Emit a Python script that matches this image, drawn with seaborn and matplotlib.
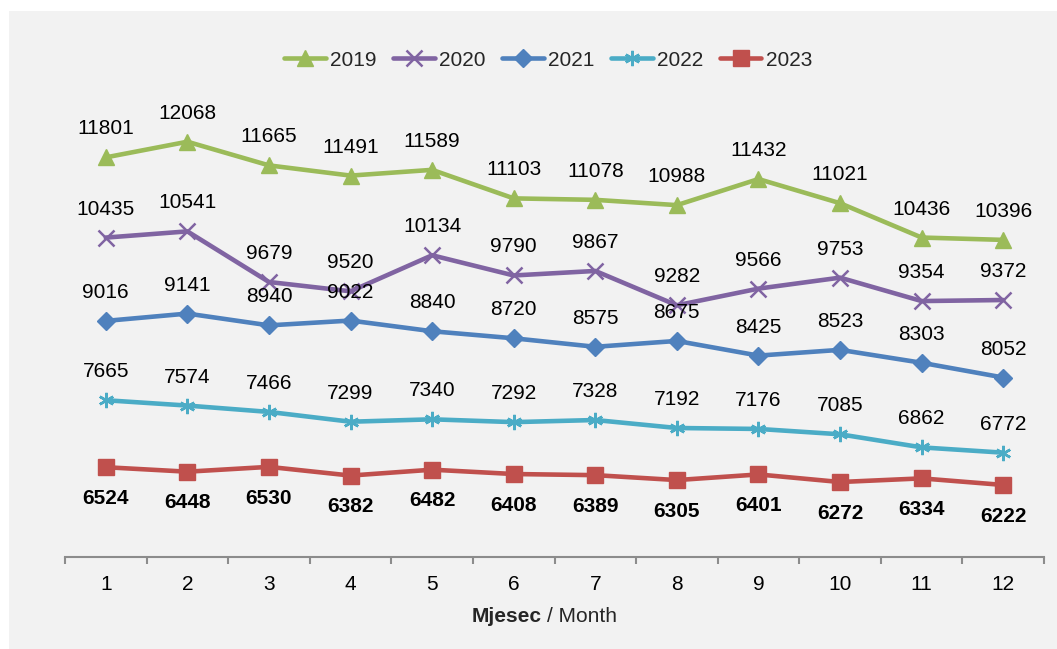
import matplotlib
matplotlib.use("Agg")
import matplotlib.pyplot as plt
from matplotlib.patches import Rectangle
import seaborn as sns
import pandas as pd

# podaci
months = list(range(1, 13))
years = ["2019", "2020", "2021", "2022", "2023"]
v2019 = [11801, 12068, 11665, 11491, 11589, 11103, 11078, 10988, 11432, 11021, 10436, 10396]
v2020 = [10435, 10541, 9679, 9520, 10134, 9790, 9867, 9282, 9566, 9753, 9354, 9372]
v2021 = [9016, 9141, 8940, 9022, 8840, 8720, 8575, 8675, 8425, 8523, 8303, 8052]
v2022 = [7665, 7574, 7466, 7299, 7340, 7292, 7328, 7192, 7176, 7085, 6862, 6772]
v2023 = [6524, 6448, 6530, 6382, 6482, 6408, 6389, 6305, 6401, 6272, 6334, 6222]
series = [v2019, v2020, v2021, v2022, v2023]

colors = ["#9BBB59", "#8064A2", "#4F81BD", "#4BACC6", "#C0504D"]
markers = ["^", "x", "D", (6, 2, 0), "s"]
msizes = [11, 11, 9, 11, 12]

sns.set_style("white")
plt.rcParams["font.family"] = ["Liberation Sans", "DejaVu Sans"]
fs = 15

fig = plt.figure(figsize=(10.57, 6.49), dpi=100)
fig.patch.set_facecolor("white")
fig.patches.append(Rectangle((9 / 1057, 0), 1 - 9 / 1057, 1 - 11 / 649,
                             transform=fig.transFigure, facecolor="#f2f2f2",
                             edgecolor="none", zorder=-10))

ax = fig.add_axes([65 / 1057, 1 - 556.7 / 649, (1044 - 65) / 1057, (556.7 - 87) / 649])
ax.set_facecolor("none")

xpos = [m - 1 for m in months]
for yr, vals, c, mk, ms in zip(years, series, colors, markers, msizes):
    sns.lineplot(x=xpos, y=vals, ax=ax, color=c, linewidth=3.3, marker=mk,
                 markersize=ms, markeredgecolor=c,
                 markeredgewidth=1.8 if mk in ("x", (6, 2, 0)) else 1, label=yr)
    bold = yr == "2023"
    for xi, v in zip(xpos, vals):
        ax.annotate(str(v), (xi, v), textcoords="offset points",
                    xytext=(0, -22.5 if bold else 20.5), ha="center", va="center",
                    fontsize=fs, fontweight="bold" if bold else "normal", color="black")

ax.set_xlim(-0.5, 11.5)
ax.set_ylim(5000, 13000)
ax.set_yticks([])
for s in ["top", "right", "left"]:
    ax.spines[s].set_visible(False)
ax.spines["bottom"].set_color("#8c8c8c")
ax.spines["bottom"].set_linewidth(1.5)

ax.set_xticks([i - 0.5 for i in range(13)])
ax.set_xticklabels([])
ax.tick_params(axis="x", which="major", direction="out", length=5, width=1.5, color="#8c8c8c", bottom=True)
ax.set_xticks(xpos, minor=True)
ax.set_xticklabels([str(m) for m in months], minor=True)
ax.tick_params(axis="x", which="minor", length=0, pad=13, labelsize=fs, labelcolor="black")

ax.set_xlabel("")
fig.text(542 / 1057, 1 - 617 / 649, "Mjesec", ha="right", va="center", fontsize=fs, fontweight="bold")
fig.text(547 / 1057, 1 - 617 / 649, "/ Month", ha="left", va="center", fontsize=fs)

ax.get_legend().remove()
handles, labels = ax.get_legend_handles_labels()
fig.legend(handles, labels, loc="center", bbox_to_anchor=(548 / 1057, 1 - 60 / 649), ncol=5,
           frameon=False, fontsize=fs, handlelength=2.0, handletextpad=0.2, columnspacing=0.8)

fig.savefig("out.png", dpi=100, facecolor=fig.get_facecolor())
